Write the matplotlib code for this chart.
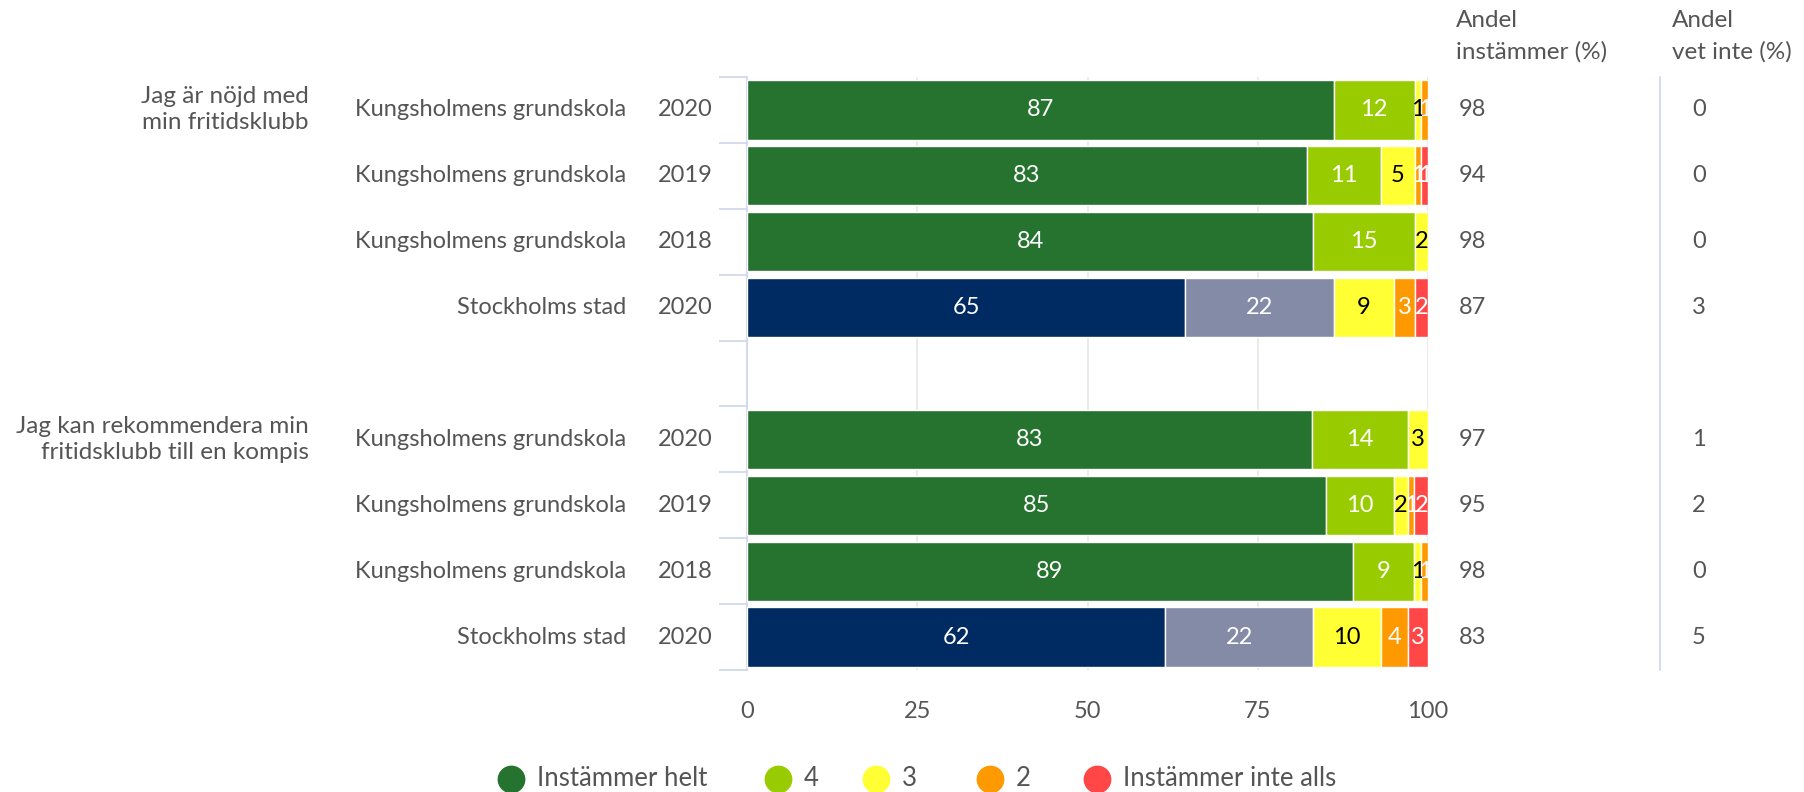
import matplotlib
matplotlib.use("Agg")
import matplotlib.pyplot as plt
import numpy as np

plt.rcParams['font.family'] = ['Lato', 'DejaVu Sans']

# ---- data ----
groups = ["Jag är nöjd med\nmin fritidsklubb", "Jag kan rekommendera min\nfritidsklubb till en kompis"]
units = ["Kungsholmens grundskola", "Kungsholmens grundskola", "Kungsholmens grundskola", "Stockholms stad"]
years = ["2020", "2019", "2018", "2020"]
series_names = ["Instämmer helt", "4", "3", "2", "Instämmer inte alls"]

helt = [87, 83, 84, 65, 83, 85, 89, 62]
fyra = [12, 11, 15, 22, 14, 10, 9, 22]
tre = [1, 5, 2, 9, 3, 2, 1, 10]
tva = [1, 1, 0, 3, 0, 1, 1, 4]
inte = [0, 1, 0, 2, 0, 2, 0, 3]
is_city = [False, False, False, True, False, False, False, True]

andel_instammer = [98, 94, 98, 87, 97, 95, 98, 83]
andel_vet_inte = [0, 0, 0, 3, 1, 2, 0, 5]

x_ticks = [0, 25, 50, 75, 100]

# ---- style ----
colors = ["#267330", "#99cc00", "#ffff33", "#ff9900", "#ff4747"]
city_colors = ["#002a62", "#838ba7", "#ffff33", "#ff9900", "#ff4747"]
label_colors = ["white", "white", "black", "white", "white"]
txt = "#555555"
FS = 17

W, H = 1804, 792
fig = plt.figure(figsize=(W / 100, H / 100), dpi=100)
ax_l, ax_r, ax_t, ax_b = 747, 1428, 77, 670
ax = fig.add_axes([ax_l / W, 1 - ax_b / H, (ax_r - ax_l) / W, (ax_b - ax_t) / H])

positions = [0, 1, 2, 3, 5, 6, 7, 8]
data = np.array([helt, fyra, tre, tva, inte], dtype=float)
totals = data.sum(axis=0)
pct = data / totals * 100

for i, pos in enumerate(positions):
    left = 0.0
    cols = city_colors if is_city[i] else colors
    for s in range(5):
        w = pct[s, i]
        if data[s, i] > 0:
            ax.barh(pos, w, left=left, height=0.9, color=cols[s],
                    edgecolor="white", linewidth=1, zorder=3)
            ax.text(left + w / 2, pos, f"{int(data[s, i])}", ha="center", va="center",
                    color=label_colors[s], fontsize=FS, zorder=4)
        left += w

ax.set_xlim(0, 100)
ax.set_ylim(8.5, -0.5)
ax.set_xticks(x_ticks)
ax.set_xticklabels([str(v) for v in x_ticks], fontsize=FS, color=txt)
ax.tick_params(axis="x", length=0, pad=22)
ax.grid(axis="x", color="#e6e6e6", linewidth=1.2, zorder=0)
for sp in ["top", "right", "bottom"]:
    ax.spines[sp].set_visible(False)
ax.spines["left"].set_color("#ccd6eb")
ax.spines["left"].set_linewidth(1.2)
ax.set_yticks(np.arange(-0.5, 9.0, 1.0))
ax.set_yticklabels([])
ax.tick_params(axis="y", length=20, color="#ccd6eb", width=1.2)


def row_text(s, pos, x_px, ha, fs=FS):
    ax.annotate(s, xy=(0, pos), xycoords=("axes fraction", "data"),
                xytext=(x_px - ax_l, 0), textcoords="offset pixels",
                ha=ha, va="center", fontsize=fs, color=txt, linespacing=1.3)


for i, pos in enumerate(positions):
    row_text(units[i % 4], pos, 626, "right")
    row_text(years[i % 4], pos, 713, "right")
    row_text(str(andel_instammer[i]), pos, 1459, "left")
    row_text(str(andel_vet_inte[i]), pos, 1692, "left")

for g, pos in zip(groups, [0, 5]):
    row_text(g, pos, 309, "right", fs=17.5)

# column headers
fig.text(1456 / W, 1 - 10 / H, "Andel\ninstämmer (%)", ha="left", va="top",
         fontsize=17.5, color=txt, linespacing=1.55)
fig.text(1672 / W, 1 - 10 / H, "Andel\nvet inte (%)", ha="left", va="top",
         fontsize=17.5, color=txt, linespacing=1.55)

# separator line
fig.add_artist(plt.Line2D([1660 / W, 1660 / W], [1 - ax_t / H, 1 - ax_b / H],
                          color="#ccd6eb", linewidth=1.2))

# legend (manual placement)
leg_x = [511, 778, 876, 990, 1097]
leg_y = 1 - 779 / H
for x, c, name in zip(leg_x, colors, series_names):
    fig.add_artist(plt.Line2D([x / W], [leg_y], marker="o", linestyle="",
                              markersize=19, color=c))
    fig.text((x + 26) / W, leg_y, name, ha="left", va="center",
             fontsize=18.5, color=txt)

fig.savefig("out.png", dpi=100)
